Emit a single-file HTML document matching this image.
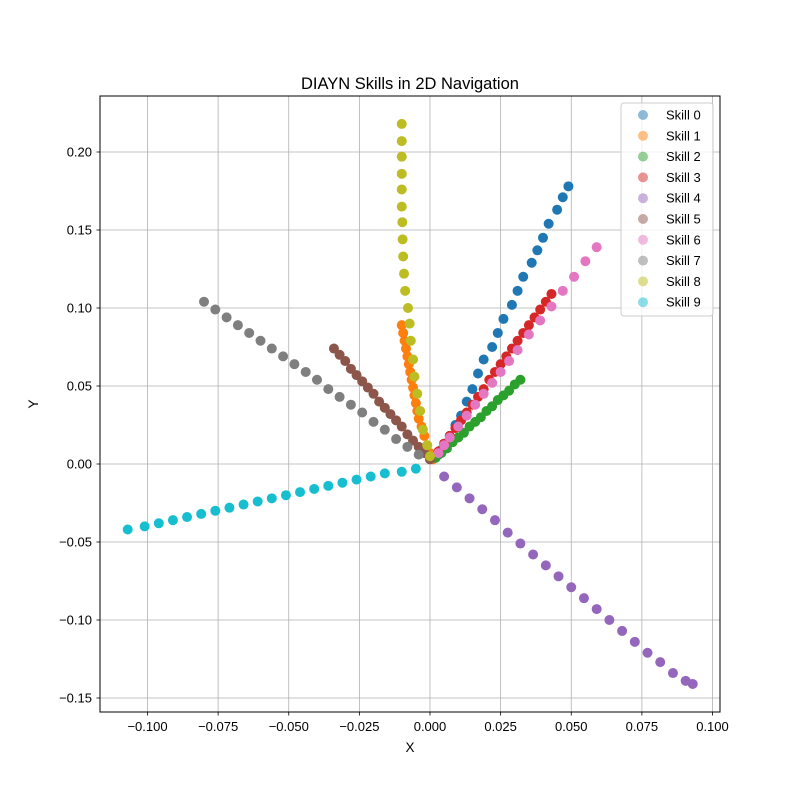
<!DOCTYPE html>
<html><head><meta charset="utf-8"><style>
html,body{margin:0;padding:0;background:#fff}
svg{display:block;font-family:"Liberation Sans","DejaVu Sans",sans-serif}
</style></head><body>
<svg id="chart" width="800" height="800" viewBox="0 0 800 800">
<rect width="800" height="800" fill="#fff"/>
<g id="grid"></g>
<g id="points"></g>
<rect x="100" y="96" width="620" height="616" fill="none" stroke="#000" stroke-width="1"/>
<g id="ticks"></g>
<text x="410" y="89" font-size="16.5" text-anchor="middle">DIAYN Skills in 2D Navigation</text>
<text x="410" y="752" font-size="13.5" text-anchor="middle">X</text>
<text x="38" y="404" font-size="13.5" text-anchor="middle" transform="rotate(-90 38 404)">Y</text>
<g id="legend"></g>
</svg>
<script>
const NS="http://www.w3.org/2000/svg";
const skillNames=["Skill 0","Skill 1","Skill 2","Skill 3","Skill 4","Skill 5","Skill 6","Skill 7","Skill 8","Skill 9"];
const colors=["#1f77b4","#ff7f0e","#2ca02c","#d62728","#9467bd","#8c564b","#e377c2","#7f7f7f","#bcbd22","#17becf"];
const xTicks=[-0.1,-0.075,-0.05,-0.025,0,0.025,0.05,0.075,0.1];
const xTickLabels=["−0.100","−0.075","−0.050","−0.025","0.000","0.025","0.050","0.075","0.100"];
const yTicks=[-0.15,-0.1,-0.05,0,0.05,0.1,0.15,0.2];
const yTickLabels=["−0.15","−0.10","−0.05","0.00","0.05","0.10","0.15","0.20"];
const s0x=[0.049,0.047,0.045,0.042,0.040,0.038,0.036,0.033,0.031,0.029,0.026,0.024,0.022,0.019,0.017,0.015,0.013,0.011,0.009,0.007,0.005,0.004,0.003,0.002];
const s0y=[0.178,0.171,0.163,0.154,0.145,0.137,0.129,0.120,0.111,0.102,0.093,0.084,0.075,0.067,0.058,0.048,0.040,0.031,0.025,0.018,0.013,0.009,0.006,0.004];
const s1x=[-0.010,-0.0095,-0.009,-0.0085,-0.008,-0.0075,-0.007,-0.0065,-0.006,-0.0055,-0.005,-0.0045,-0.004,-0.003,-0.002,-0.001,0.000,0.001];
const s1y=[0.089,0.084,0.079,0.074,0.069,0.064,0.059,0.054,0.049,0.044,0.039,0.034,0.029,0.024,0.018,0.012,0.007,0.003];
const s2x=[0.032,0.030,0.028,0.026,0.024,0.022,0.020,0.018,0.016,0.014,0.012,0.010,0.008,0.006,0.004,0.002];
const s2y=[0.054,0.051,0.047,0.044,0.041,0.037,0.034,0.030,0.027,0.024,0.020,0.017,0.014,0.010,0.007,0.004];
const s3x=[0.043,0.041,0.039,0.037,0.035,0.033,0.031,0.029,0.027,0.025,0.023,0.021,0.019,0.017,0.015,0.013,0.011,0.009,0.007,0.005,0.003];
const s3y=[0.109,0.104,0.099,0.094,0.089,0.084,0.079,0.074,0.069,0.064,0.059,0.054,0.048,0.043,0.038,0.033,0.028,0.023,0.018,0.013,0.008];
const s4x=[0.005,0.0095,0.014,0.0185,0.023,0.0275,0.032,0.0365,0.041,0.0455,0.050,0.0545,0.059,0.0635,0.068,0.0725,0.077,0.0815,0.086,0.0905,0.093];
const s4y=[-0.008,-0.015,-0.022,-0.029,-0.036,-0.044,-0.051,-0.058,-0.065,-0.072,-0.079,-0.086,-0.093,-0.100,-0.107,-0.114,-0.121,-0.127,-0.134,-0.139,-0.141];
const s5x=[-0.034,-0.032,-0.030,-0.028,-0.026,-0.024,-0.022,-0.020,-0.018,-0.016,-0.014,-0.012,-0.010,-0.008,-0.006,-0.004,-0.002,0.000];
const s5y=[0.074,0.070,0.066,0.061,0.057,0.053,0.049,0.045,0.040,0.036,0.032,0.028,0.024,0.019,0.015,0.011,0.007,0.003];
const s6x=[0.059,0.055,0.051,0.047,0.043,0.039,0.035,0.031,0.028,0.025,0.022,0.019,0.016,0.013,0.010,0.007,0.005,0.003];
const s6y=[0.139,0.130,0.120,0.111,0.101,0.092,0.083,0.073,0.066,0.059,0.052,0.045,0.038,0.031,0.024,0.017,0.012,0.007];
const s7x=[-0.080,-0.076,-0.072,-0.068,-0.064,-0.060,-0.056,-0.052,-0.048,-0.044,-0.040,-0.036,-0.032,-0.028,-0.024,-0.020,-0.016,-0.012,-0.008,-0.004];
const s7y=[0.104,0.099,0.094,0.089,0.084,0.079,0.074,0.069,0.064,0.059,0.054,0.048,0.043,0.038,0.033,0.027,0.022,0.016,0.011,0.006];
const s8x=[-0.010,-0.010,-0.010,-0.010,-0.010,-0.010,-0.0098,-0.0097,-0.0095,-0.0092,-0.0088,-0.0078,-0.0072,-0.0068,-0.0060,-0.0055,-0.0045,-0.0035,-0.0025,-0.0010,0.000];
const s8y=[0.218,0.207,0.197,0.186,0.176,0.165,0.155,0.144,0.133,0.122,0.111,0.100,0.090,0.079,0.067,0.056,0.045,0.034,0.022,0.012,0.005];
const s9x=[-0.107,-0.101,-0.096,-0.091,-0.086,-0.081,-0.076,-0.071,-0.066,-0.061,-0.056,-0.051,-0.046,-0.041,-0.036,-0.031,-0.026,-0.021,-0.016,-0.010,-0.005];
const s9y=[-0.042,-0.040,-0.038,-0.036,-0.034,-0.032,-0.030,-0.028,-0.026,-0.024,-0.022,-0.020,-0.018,-0.016,-0.014,-0.012,-0.010,-0.008,-0.006,-0.005,-0.003];

const seriesX=[s0x,s1x,s2x,s3x,s4x,s5x,s6x,s7x,s8x,s9x];
const seriesY=[s0y,s1y,s2y,s3y,s4y,s5y,s6y,s7y,s8y,s9y];
function xs(v){return 430+v*2825;}
function ys(v){return 464-v*1560;}
function mk(tag,attrs,parent){const e=document.createElementNS(NS,tag);for(const k in attrs)e.setAttribute(k,attrs[k]);parent.appendChild(e);return e;}
const grid=document.getElementById('grid'),ticks=document.getElementById('ticks'),pts=document.getElementById('points'),leg=document.getElementById('legend');
xTicks.forEach((t,i)=>{const x=xs(t);
 const g=mk('line',{x1:x,x2:x,y1:96,y2:712,stroke:'#b0b0b0','stroke-width':0.8},grid);
 
 
 const tk=mk('line',{x1:x,x2:x,y1:712,y2:715.5,stroke:'#000','stroke-width':0.8},ticks);
 
 
 const tx=mk('text',{x:x,y:731,'font-size':13,'text-anchor':'middle'},ticks);tx.textContent=xTickLabels[i];
 
 
});
yTicks.forEach((t,i)=>{const y=ys(t);
 const g=mk('line',{x1:100,x2:720,y1:y,y2:y,stroke:'#b0b0b0','stroke-width':0.8},grid);
 
 
 const tk=mk('line',{x1:96.5,x2:100,y1:y,y2:y,stroke:'#000','stroke-width':0.8},ticks);
 
 
 const tx=mk('text',{x:92,y:y+4.5,'font-size':13,'text-anchor':'end'},ticks);tx.textContent=yTickLabels[i];
 
 
});
seriesX.forEach((sx,k)=>{const g=mk('g',{},pts);
 
 
 sx.forEach((v,i)=>{const c=mk('circle',{cx:xs(v),cy:ys(seriesY[k][i]),r:5,fill:colors[k]},g);
  
  });
});
const box=mk('rect',{x:621,y:103,width:92,height:213,fill:'#fff','fill-opacity':0.8,stroke:'#ccc',rx:3},leg);


skillNames.forEach((n,i)=>{const y=115+i*20.8;
 const c=mk('circle',{cx:643,cy:y,r:5,fill:colors[i],'fill-opacity':0.5},leg);
 
 
 const t=mk('text',{x:666,y:y+4.5,'font-size':13},leg);t.textContent=n;
 
 
});
</script>
</body></html>
